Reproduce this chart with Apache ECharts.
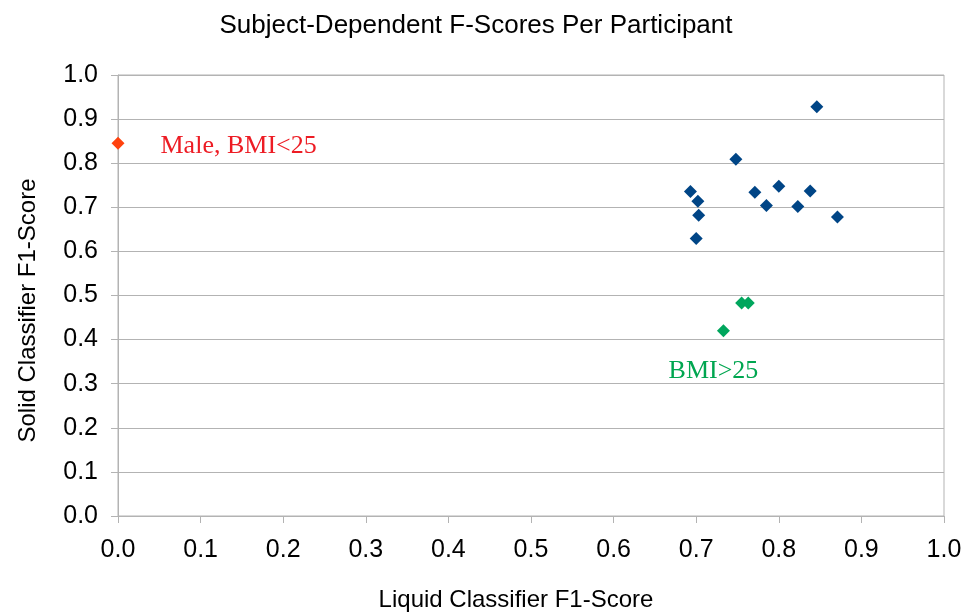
<!DOCTYPE html>
<html>
<head>
<meta charset="utf-8">
<script src="https://cdn.jsdelivr.net/npm/echarts@6/dist/echarts.min.js"></script>
<style>
  html, body { margin: 0; padding: 0; background: #fff; overflow: hidden; }
  #chart { width: 968px; height: 614px; }
</style>
</head>
<body>
<div id="chart"></div>
<script>
// Liquid (x) vs solid (y) classifier F1-scores, one point per participant
const participantsX = [0.846, 0.748, 0.693, 0.702, 0.703, 0.700, 0.771, 0.785, 0.800, 0.823, 0.838, 0.871];
const participantsY = [0.928, 0.809, 0.736, 0.714, 0.682, 0.629, 0.734, 0.704, 0.748, 0.702, 0.737, 0.678];

const maleLowBmiX = [0.0];
const maleLowBmiY = [0.845];

const highBmiX = [0.755, 0.763, 0.733];
const highBmiY = [0.483, 0.483, 0.420];

const axisTicks = [0.0, 0.1, 0.2, 0.3, 0.4, 0.5, 0.6, 0.7, 0.8, 0.9, 1.0];

const pairs = (xs, ys) => xs.map((x, i) => [x, ys[i]]);

const chart = echarts.init(document.getElementById('chart'), null, {
  renderer: 'canvas', width: 968, height: 614
});

const sansFont = '"Liberation Sans", Arial, sans-serif';
const serifFont = '"Liberation Serif", "Times New Roman", serif';
const gridColor = '#b3b3b3';

chart.setOption({
  animation: false,
  backgroundColor: '#ffffff',
  title: {
    text: 'Subject-Dependent F-Scores Per Participant',
    left: 471, textAlign: 'center',
    top: 8,
    textStyle: { fontFamily: sansFont, fontSize: 26, fontWeight: 'normal', color: '#000' }
  },
  grid: {
    left: 118, right: 24, top: 75, bottom: 98,
    outerBoundsMode: 'none', containLabel: false,
    show: true, borderColor: gridColor, borderWidth: 1
  },
  xAxis: {
    type: 'value',
    min: axisTicks[0], max: axisTicks[axisTicks.length - 1], interval: 0.1,
    name: 'Liquid Classifier F1-Score',
    nameLocation: 'middle', nameGap: 72,
    nameTextStyle: { fontFamily: sansFont, fontSize: 24, color: '#000', padding: [0, 30, 0, 0] },
    axisLine: { lineStyle: { color: gridColor } },
    axisTick: { show: true, length: 7, lineStyle: { color: gridColor } },
    axisLabel: {
      fontFamily: sansFont, fontSize: 25, color: '#000', margin: 22,
      formatter: v => v.toFixed(1)
    },
    splitLine: { show: false }
  },
  yAxis: {
    type: 'value',
    min: axisTicks[0], max: axisTicks[axisTicks.length - 1], interval: 0.1,
    name: 'Solid Classifier F1-Score',
    nameLocation: 'middle', nameGap: 78, nameRotate: 90,
    nameTextStyle: { fontFamily: sansFont, fontSize: 24, color: '#000', padding: [0, 30, 0, 0] },
    axisLine: { show: true, lineStyle: { color: gridColor } },
    axisTick: { show: true, length: 7, lineStyle: { color: gridColor } },
    axisLabel: {
      fontFamily: sansFont, fontSize: 25, color: '#000', margin: 20,
      formatter: v => v.toFixed(1)
    },
    splitLine: { show: true, lineStyle: { color: gridColor } }
  },
  series: [
    {
      name: 'Participants',
      type: 'scatter',
      symbol: 'diamond',
      symbolSize: 13,
      itemStyle: { color: '#004586', opacity: 1 },
      data: pairs(participantsX, participantsY)
    },
    {
      name: 'Male, BMI<25',
      type: 'scatter',
      symbol: 'diamond',
      symbolSize: 13,
      itemStyle: { color: '#ff420e', opacity: 1 },
      label: {
        show: true, position: 'right', distance: 36, offset: [0, 3],
        formatter: 'Male, BMI<25',
        fontFamily: serifFont, fontSize: 26, color: '#ed1c24'
      },
      data: pairs(maleLowBmiX, maleLowBmiY)
    },
    {
      name: 'BMI>25',
      type: 'scatter',
      symbol: 'diamond',
      symbolSize: 13,
      itemStyle: { color: '#00a65d', opacity: 1 },
      data: pairs(highBmiX, highBmiY).map((p, i) => ({
        value: p,
        label: i === 2 ? {
          show: true, position: 'inside', offset: [-10, 40],
          formatter: 'BMI>25',
          fontFamily: serifFont, fontSize: 26, color: '#00a650'
        } : { show: false }
      }))
    }
  ]
});
</script>
</body>
</html>
